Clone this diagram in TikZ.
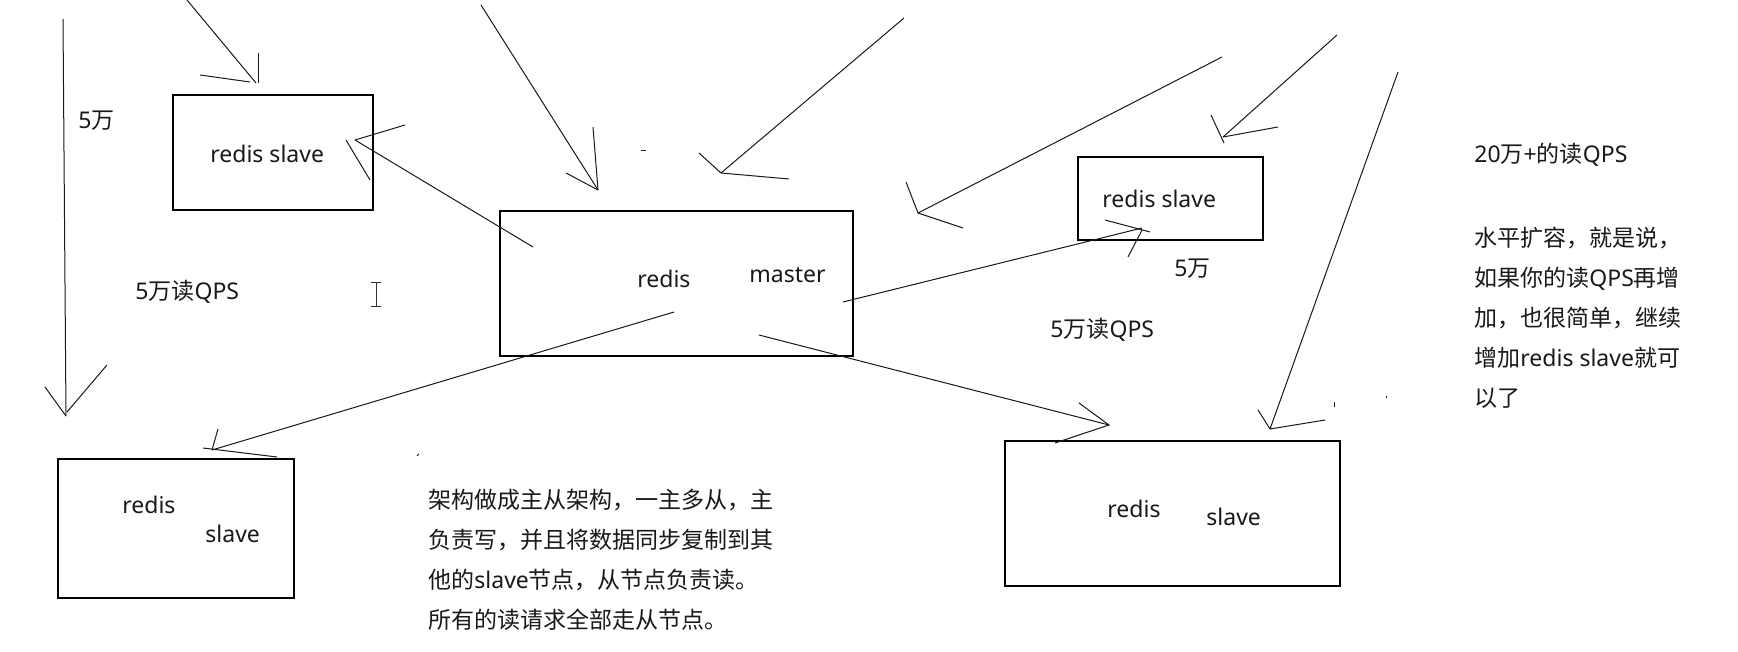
\documentclass[tikz,border=0pt]{standalone}
\usepackage{fontspec}
\setmainfont{Noto Sans CJK SC}
\newfontfamily\lat{Noto Sans}
\begin{document}
\begin{tikzpicture}[x=0.5pt,y=-0.5pt,
  box/.style={draw=black,line width=0.6pt,rectangle,inner sep=0pt},
  ln/.style={draw=black!90,line width=0.5pt},
  txt/.style={inner sep=0pt,anchor=base west,text=black!90,font=\fontsize{11.5pt}{14pt}\selectfont},
  lt/.style={txt,font=\lat\fontsize{11.5pt}{14pt}\selectfont}]
\useasboundingbox[fill=white] (0,0) rectangle (1738,652);
% boxes
\node[box,minimum width=100pt,minimum height=57.5pt] (s1) at (273,152.5) {};
\node[box,minimum width=176.5pt,minimum height=72.5pt] (m) at (676.5,283.5) {};
\node[box,minimum width=92.5pt,minimum height=41.5pt] (s2) at (1170.5,198.5) {};
\node[box,minimum width=118pt,minimum height=69.5pt] (s3) at (176,528.5) {};
\node[box,minimum width=167.5pt,minimum height=72.5pt] (s4) at (1172.5,513.5) {};
% box labels
\node[lt] (s1t) at (210,163) {redis slave};
\node[lt] (mt1) at (637,287) {redis};
\node[lt] (mt2) at (749,282) {master};
\node[lt] (s2t) at (1102,208) {redis slave};
\node[lt] (s3t1) at (122,513) {redis};
\node[lt] (s3t2) at (205,542) {slave};
\node[lt] (s4t1) at (1107,517) {redis};
\node[lt] (s4t2) at (1206,525) {slave};
% other labels
\node[txt] (l1) at (78,129) {{\lat 5}万};
\node[txt] (l2) at (135,299) {{\lat 5}万读{\lat QPS}};
\node[txt] (l3) at (1174,276) {{\lat 5}万};
\node[txt] (l4) at (1050,337) {{\lat 5}万读{\lat QPS}};
\node[txt] (p1) at (428,508) {架构做成主从架构，一主多从，主};
\node[txt] (p2) at (428,548) {负责写，并且将数据同步复制到其};
\node[txt] (p3) at (428,588) {他的{\lat slave}节点，从节点负责读。};
\node[txt] (p4) at (428,628) {所有的读请求全部走从节点。};
\node[txt] (r0) at (1474,163) {{\lat 20}万{\lat +}的读{\lat QPS}};
\node[txt] (r1) at (1474,246) {水平扩容，就是说，};
\node[txt] (r2) at (1474,286) {如果你的读{\lat QPS}再增};
\node[txt] (r3) at (1474,326) {加，也很简单，继续};
\node[txt] (r4) at (1474,366) {增加{\lat redis slave}就可};
\node[txt] (r5) at (1474,406) {以了};
% arrow end points
\coordinate (a1s) at (63,19);   \coordinate (a1e) at (66,416);
\coordinate (a2s) at (187,0);   \coordinate (a2e) at (256,83);
\coordinate (a3s) at (533,247); \coordinate (a3e) at (355,140);
\coordinate (a4s) at (481,5);   \coordinate (a4e) at (598,190);
\coordinate (a5s) at (904,18);  \coordinate (a5e) at (721,173);
\coordinate (a6s) at (1222,57); \coordinate (a6e) at (918,213);
\coordinate (a7s) at (843,302); \coordinate (a7e) at (1142,228);
\coordinate (a8s) at (1337,35); \coordinate (a8e) at (1223,137);
\coordinate (a9s) at (1398,72); \coordinate (a9e) at (1270,429);
\coordinate (a10s) at (674,312); \coordinate (a10e) at (212,450);
\coordinate (a11s) at (759,335); \coordinate (a11e) at (1109,425);
% shafts
\foreach \i in {1,...,11} {\draw[ln] (a\i s) -- (a\i e);}
% hand-drawn heads
\draw[ln] (45,387) -- (a1e); \draw[ln] (107,365) -- (67,412);
\draw[ln] (258,53) -- (258,83); \draw[ln] (200,75) -- (250,82);
\draw[ln] (405,125) -- (a3e); \draw[ln] (346,140) -- (370,180);
\draw[ln] (593,127) -- (a4e); \draw[ln] (566,173) -- (a4e);
\draw[ln] (699,153) -- (a5e) -- (789,179);
\draw[ln] (906,182) -- (a6e) -- (963,228);
\draw[ln] (1105,220) -- (1150,232); \draw[ln] (1142,230) -- (1128,257);
\draw[ln] (1211,115) -- (1224,143); \draw[ln] (a8e) -- (1278,127);
\draw[ln] (1258,410) -- (a9e) -- (1325,420);
\draw[ln] (218,429) -- (a10e); \draw[ln] (203,448) -- (277,457);
\draw[ln] (1079,403) -- (a11e) -- (1055,443);
% stray marks
\draw[ln] (641,151) -- (646,151);
\draw[ln] (417,456) -- (419,454);
\draw[ln] (1334,402) -- (1334,407);
\draw[ln] (1386,396) -- (1386,398);
% text cursor
\draw[line width=0.5pt,black!80] (371,282) -- (381,282) (376,282) -- (376,306) (371,306) -- (381,306);
\end{tikzpicture}
\end{document}
